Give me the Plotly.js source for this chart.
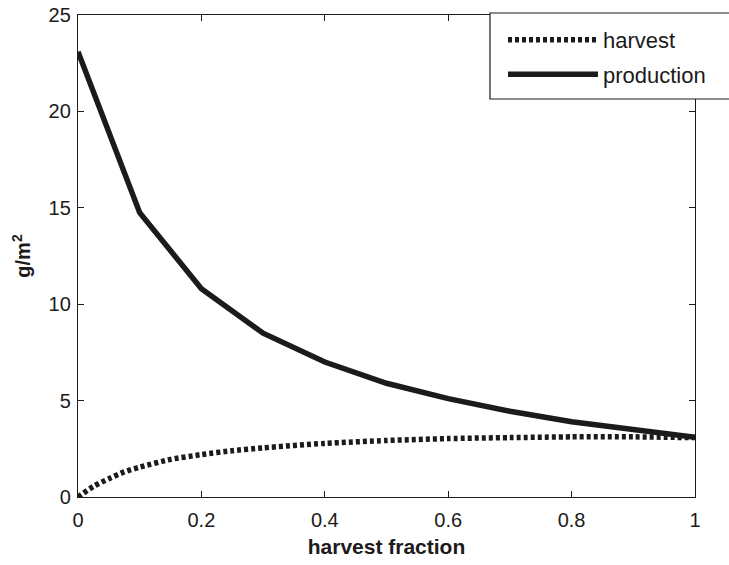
<!DOCTYPE html>
<html>
<head>
<meta charset="utf-8">
<script src="https://cdn.plot.ly/plotly-3.0.1.min.js"></script>
<style>html,body{margin:0;padding:0;background:#fff;}#chart{width:729px;height:565px;}</style>
</head>
<body>
<div id="chart"></div>
<script>
// Data
const productionX = [0, 0.1, 0.2, 0.3, 0.4, 0.5, 0.6, 0.7, 0.8, 0.9, 1.0];
const productionY = [23.1, 14.75, 10.8, 8.5, 7.0, 5.9, 5.1, 4.45, 3.9, 3.5, 3.1];

const harvestX = [0, 0.025, 0.05, 0.075, 0.1, 0.15, 0.2, 0.25, 0.3, 0.4, 0.5, 0.6, 0.7, 0.8, 0.9, 1.0];
const harvestY = [0, 0.55, 0.95, 1.3, 1.55, 1.95, 2.2, 2.4, 2.55, 2.78, 2.93, 3.03, 3.08, 3.12, 3.12, 3.08];

const xTicks = [0, 0.2, 0.4, 0.6, 0.8, 1];
const xTickText = ['0', '0.2', '0.4', '0.6', '0.8', '1'];
const yTicks = [0, 5, 10, 15, 20, 25];

const ink = '#1c1a1a';
const font = 'Liberation Sans, Arial, Helvetica, sans-serif';

const traces = [
  {
    x: harvestX, y: harvestY, type: 'scatter', mode: 'lines', name: 'harvest',
    legendgroup: 'a',
    line: {color: ink, width: 5.5, dash: '4px,3px', shape: 'spline', smoothing: 0.6}
  },
  {
    x: productionX, y: productionY, type: 'scatter', mode: 'lines', name: 'production',
    legendgroup: 'b',
    line: {color: ink, width: 5.5}
  }
];

const axisCommon = {
  showgrid: false, zeroline: false, showline: true, mirror: 'ticks',
  linecolor: ink, linewidth: 1.2, ticks: 'inside', ticklen: 6, tickcolor: ink, tickwidth: 1,
  tickfont: {family: font, size: 20, color: ink}
};

const layout = {
  width: 729, height: 565,
  margin: {l: 78, r: 34, t: 15, b: 68, autoexpand: false},
  paper_bgcolor: '#fff', plot_bgcolor: '#fff',
  showlegend: true,
  xaxis: Object.assign({}, axisCommon, {
    range: [0, 1], tickvals: xTicks, ticktext: xTickText, ticklabelstandoff: 5,
    title: {text: '<b>harvest fraction</b>', font: {family: font, size: 21, color: ink}, standoff: 9}
  }),
  yaxis: Object.assign({}, axisCommon, {
    range: [0, 25], tickvals: yTicks, ticklabelstandoff: 2,
    title: {text: '<b>g/m<sup>2</sup></b>', font: {family: font, size: 20, color: ink}, standoff: 12}
  }),
  shapes: [{
    type: 'rect', xref: 'paper', yref: 'paper', layer: 'above',
    x0: 0.6677, x1: 1.2, y0: 0.8257, y1: 1.0041,
    fillcolor: '#fff', line: {color: ink, width: 1.2}
  }],
  legend: {
    x: 0.6888, xanchor: 'left', y: 0.992, yanchor: 'top',
    bgcolor: 'rgba(0,0,0,0)', borderwidth: 0,
    font: {family: font, size: 22, color: ink},
    itemwidth: 90, traceorder: 'grouped', tracegroupgap: 3
  }
};

Plotly.newPlot('chart', traces, layout, {displayModeBar: false, staticPlot: true});
</script>
</body>
</html>
